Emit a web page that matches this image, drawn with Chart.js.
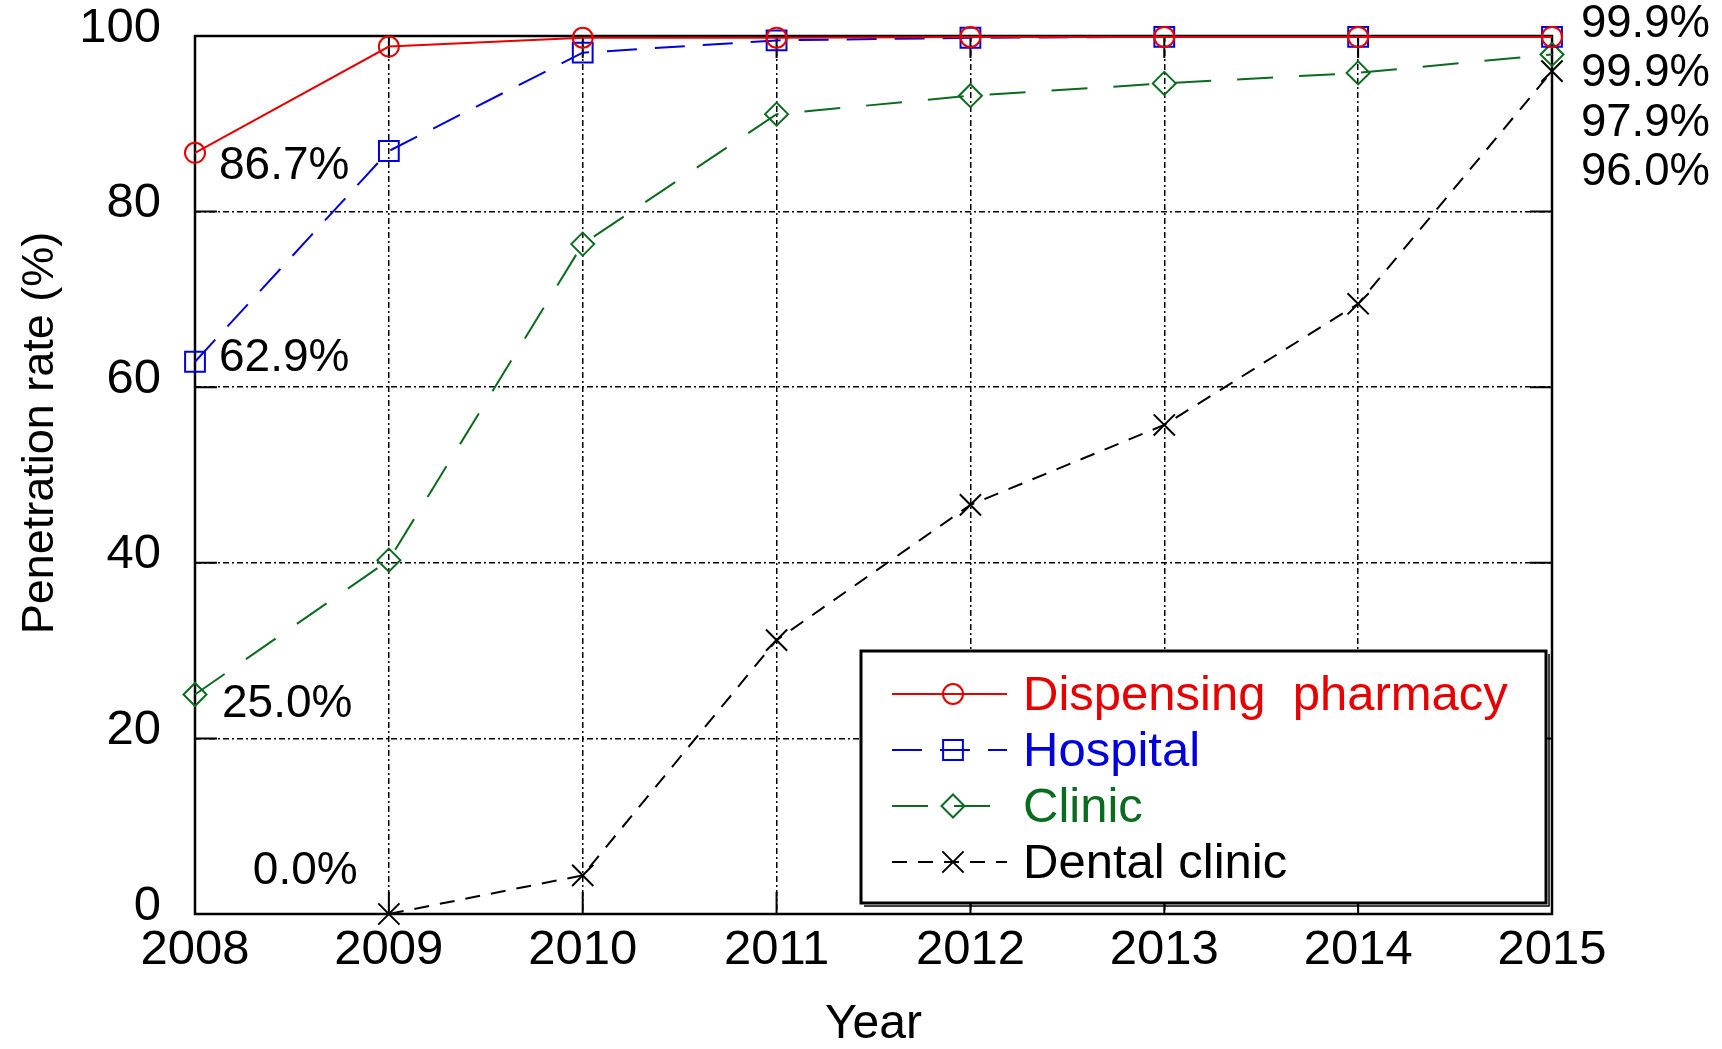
<!DOCTYPE html>
<html>
<head>
<meta charset="utf-8">
<title>Penetration rate by year</title>
<script src="https://cdn.jsdelivr.net/npm/chart.js@4.4.1/dist/chart.umd.min.js"></script>
<style>
  html, body { margin: 0; padding: 0; background: #fff; }
  #wrap { width: 1722px; height: 1049px; }
</style>
</head>
<body>
<div id="wrap"><canvas id="rateChart" width="1722" height="1049"></canvas></div>
<script>
// values
const years    = ['2008', '2009', '2010', '2011', '2012', '2013', '2014', '2015'];
const pharmacy = [86.7, 98.8, 99.8, 99.8, 99.9, 99.9, 99.9, 99.9];
const hospital = [62.9, 86.9, 98.1, 99.5, 99.8, 99.9, 99.9, 99.9];
const clinic   = [25.0, 40.3, 76.3, 91.1, 93.2, 94.6, 95.8, 97.9];
const dental   = [null, 0.0, 4.4, 31.2, 46.6, 55.7, 69.5, 96.0];
const yTicks   = [0, 20, 40, 60, 80, 100];
const seriesNames = ['Dispensing  pharmacy', 'Hospital', 'Clinic', 'Dental clinic'];

const FONT = '"Liberation Sans", Arial, Helvetica, sans-serif';
const RED = '#e60000';
const BLUE = '#0000dc';
const GREEN = '#0b6b1f';
const BLACK = '#000000';

function pct(v) {
    return v.toFixed(1) + '%';
}

// box, inward ticks, labels, legend
const decorPlugin = {
    id: 'decor',
    beforeDatasetsDraw(chart) {
        const ctx = chart.ctx;
        const a = chart.chartArea;
        const xs = chart.scales.x;
        const ys = chart.scales.y;
        const tl = 22;
        ctx.save();
        ctx.strokeStyle = BLACK;
        ctx.lineWidth = 2;
        ctx.setLineDash([]);
        ctx.beginPath();
        yTicks.forEach(v => {
            const y = ys.getPixelForValue(v);
            ctx.moveTo(a.left, y); ctx.lineTo(a.left + tl, y);
            ctx.moveTo(a.right, y); ctx.lineTo(a.right - tl, y);
        });
        years.forEach((yr, i) => {
            const x = xs.getPixelForValue(i);
            ctx.moveTo(x, a.bottom); ctx.lineTo(x, a.bottom - tl);
            ctx.moveTo(x, a.top); ctx.lineTo(x, a.top + tl);
        });
        ctx.stroke();
        ctx.lineWidth = 2.5;
        ctx.strokeRect(a.left, a.top, a.right - a.left, a.bottom - a.top);
        ctx.restore();
    },
    afterDraw(chart) {
        const ctx = chart.ctx;
        const a = chart.chartArea;
        const xs = chart.scales.x;
        const ys = chart.scales.y;
        ctx.save();

        // y axis title
        ctx.fillStyle = BLACK;
        ctx.font = '45px ' + FONT;
        ctx.textAlign = 'center';
        ctx.textBaseline = 'middle';
        ctx.translate(41, 433);
        ctx.rotate(-Math.PI / 2);
        ctx.fillText('Penetration rate (%)', 0, 0);
        ctx.setTransform(1, 0, 0, 1, 0, 0);

        // value labels next to the first points
        ctx.font = '46px ' + FONT;
        ctx.textAlign = 'left';
        const notes = [
            [pharmacy, 0, 24, 14],
            [hospital, 0, 24, -3],
            [clinic, 0, 27, 10],
            [dental, 1, -136, -43]
        ];
        notes.forEach(n => {
            const v = n[0][n[1]];
            ctx.fillText(pct(v), xs.getPixelForValue(n[1]) + n[2], ys.getPixelForValue(v) + n[3]);
        });

        // last-year values, stacked right of the plot
        ctx.font = '45.5px ' + FONT;
        const last = years.length - 1;
        [pharmacy, hospital, clinic, dental].forEach((s, i) => {
            ctx.fillText(pct(s[last]), a.right + 29, a.top - 12 + i * 49.5);
        });

        // legend
        const lx = 861, ly = 651, lw = 685, lh = 252;
        ctx.fillStyle = '#fff';
        ctx.fillRect(lx, ly, lw, lh);
        ctx.strokeStyle = BLACK;
        ctx.lineWidth = 3;
        ctx.strokeRect(lx, ly, lw, lh);
        ctx.beginPath();
        ctx.moveTo(lx + lw + 3, ly + 3);
        ctx.lineTo(lx + lw + 3, ly + lh + 3);
        ctx.lineTo(lx + 3, ly + lh + 3);
        ctx.lineWidth = 1.5;
        ctx.stroke();

        ctx.font = '49px ' + FONT;
        ctx.textBaseline = 'middle';
        chart.data.datasets.forEach((ds, i) => {
            const ry = ly + 43 + i * 56;
            ctx.strokeStyle = ds.borderColor;
            ctx.lineWidth = ds.borderWidth;
            ctx.setLineDash(ds.borderDash || []);
            ctx.beginPath();
            ctx.moveTo(lx + 31, ry);
            ctx.lineTo(lx + 146, ry);
            ctx.stroke();
            ctx.setLineDash([]);
            ctx.fillStyle = 'rgba(0,0,0,0)';
            Chart.helpers.drawPoint(ctx, {
                pointStyle: ds.pointStyle,
                radius: ds.pointRadius,
                borderWidth: ds.pointBorderWidth,
                rotation: 0
            }, lx + 92, ry);
            ctx.fillStyle = ds.borderColor;
            ctx.fillText(ds.label, lx + 162, ry + 2);
        });
        ctx.restore();
    }
};

function makeSet(label, data, color, dash, style, radius) {
    return {
        label: label,
        data: data,
        borderColor: color,
        backgroundColor: 'rgba(0,0,0,0)',
        borderWidth: 2,
        borderDash: dash,
        pointStyle: style,
        pointRadius: radius,
        pointHoverRadius: radius,
        pointBorderColor: color,
        pointBackgroundColor: 'rgba(0,0,0,0)',
        pointBorderWidth: 2,
        tension: 0,
        clip: false
    };
}

// keep the plot box where the figure has it
function noEdgePadding(s) {
    s.paddingTop = 0;
    s.paddingBottom = 0;
    s.paddingLeft = 0;
    s.paddingRight = 0;
}

const ctx = document.getElementById('rateChart').getContext('2d');
const chart = new Chart(ctx, {
    type: 'line',
    data: {
        labels: years,
        datasets: [
            makeSet(seriesNames[0], pharmacy, RED, [], 'circle', 10),
            makeSet(seriesNames[1], hospital, BLUE, [30, 18], 'rect', 14),
            makeSet(seriesNames[2], clinic, GREEN, [36, 26], 'rectRot', 11.5),
            makeSet(seriesNames[3], dental, BLACK, [15, 11], 'crossRot', 15)
        ]
    },
    options: {
        responsive: false,
        animation: false,
        devicePixelRatio: 1,
        layout: { padding: { left: 0, right: 170, top: 36, bottom: 0 } },
        plugins: {
            legend: { display: false },
            tooltip: { enabled: false }
        },
        scales: {
            x: {
                grid: { color: BLACK, lineWidth: 1.5, drawTicks: false },
                border: { display: false, dash: [6, 3, 2, 3] },
                ticks: {
                    color: BLACK,
                    font: { family: FONT, size: 49, lineHeight: 1 },
                    padding: 12,
                    maxRotation: 0,
                    autoSkip: false
                },
                title: {
                    display: true,
                    text: 'Year',
                    color: BLACK,
                    font: { family: FONT, size: 48, lineHeight: 1 },
                    padding: { top: 0, bottom: 0 }
                },
                afterFit: s => { s.height = 135; noEdgePadding(s); }
            },
            y: {
                min: 0,
                max: 100,
                grid: { color: BLACK, lineWidth: 1.5, drawTicks: false },
                border: { display: false, dash: [6, 3, 2, 3] },
                ticks: {
                    stepSize: 20,
                    color: BLACK,
                    padding: 34,
                    // second empty line lifts the label a few px above its grid line, as in the figure
                    callback: v => [String(v), ''],
                    font: { family: FONT, size: 49, lineHeight: 0.32 }
                },
                afterFit: s => { s.width = 195; noEdgePadding(s); }
            }
        }
    },
    plugins: [decorPlugin]
});
</script>
</body>
</html>
